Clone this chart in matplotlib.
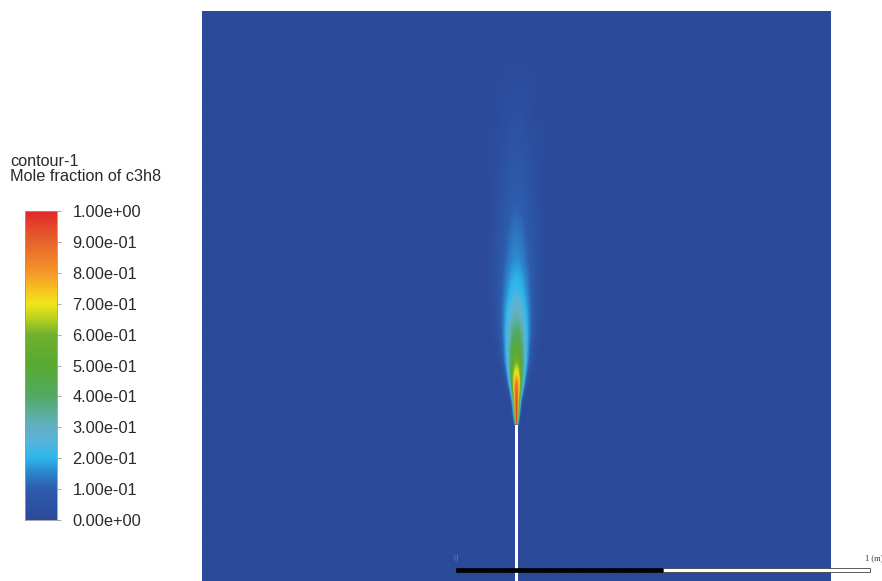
import numpy as np
import matplotlib
matplotlib.use("Agg")
import matplotlib.pyplot as plt
from matplotlib.colors import LinearSegmentedColormap
from matplotlib.patches import Rectangle

plt.rcParams['font.family'] = ['Liberation Sans', 'DejaVu Sans']

# ---- data ----
# plume centreline profile above the pipe tip (m)
heights = [0.0, 0.024, 0.06, 0.096, 0.125, 0.157, 0.198, 0.253, 0.318, 0.398, 0.542, 0.675, 0.795, 0.88]
centerline = [1.0, 0.98, 0.95, 0.88, 0.72, 0.58, 0.47, 0.34, 0.23, 0.16, 0.10, 0.06, 0.03, 0.008]
halfwidth = [0.0036, 0.006, 0.009, 0.0145, 0.019, 0.024, 0.028, 0.034, 0.040, 0.045, 0.047, 0.047, 0.046, 0.045]

cbar_ticks = [0.0, 0.1, 0.2, 0.3, 0.4, 0.5, 0.6, 0.7, 0.8, 0.9, 1.0]
cmap_pos = [0.0, 0.1, 0.15, 0.2, 0.25, 0.3, 0.35, 0.4, 0.5, 0.6, 0.65, 0.7, 0.75, 0.8, 0.9, 1.0]
cmap_cols = ['#2b4a9a', '#2e5cad', '#2d85cc', '#2cb7ea', '#55b5dc', '#62b0c6', '#5aae98',
             '#52aa64', '#58aa32', '#70b02e', '#b8d020', '#f0e61a', '#f8c020', '#f5982a',
             '#e8642a', '#e02a2a']

x_min, x_max = -0.758, 0.758
y_min, y_max = -0.376, 0.997
pipe_halfwidth = 0.0045
# --------------------------------------

cmap = LinearSegmentedColormap.from_list('fluent', list(zip(cmap_pos, cmap_cols)))

fig = plt.figure(figsize=(8.82, 5.81), dpi=100)
W, H = 882, 581

ax = fig.add_axes([202 / W, 0, 629 / W, 570 / H])
nx, ny = 1600, 1400
xs = np.linspace(x_min, x_max, nx)
ys = np.linspace(y_min, y_max, ny)
X, Y = np.meshgrid(xs, ys)
c = np.interp(Y, heights, centerline, left=0.0, right=0.0)
w = np.interp(Y, heights, halfwidth)
field = np.where(Y >= 0, c * np.exp(-(X / w) ** 2), 0.0)
ax.imshow(field, origin='lower', extent=[x_min, x_max, y_min, y_max],
          cmap=cmap, vmin=0, vmax=1, aspect='auto', interpolation='bilinear')
ax.add_patch(Rectangle((-pipe_halfwidth, y_min), 2 * pipe_halfwidth, -y_min,
                       facecolor='white', edgecolor='none', zorder=3))
ax.set_xlim(x_min, x_max)
ax.set_ylim(y_min, y_max)
ax.axis('off')

# scale bar (1 m) in data units
sb_x0 = -0.147
sb_y = -0.3495
ax.add_patch(Rectangle((sb_x0, sb_y - 0.006), 0.5, 0.012, facecolor='black',
                       edgecolor='black', lw=0.5, clip_on=False, zorder=5))
ax.add_patch(Rectangle((sb_x0 + 0.5, sb_y - 0.0045), 0.5, 0.009, facecolor='white',
                       edgecolor='#444444', lw=0.6, clip_on=False, zorder=5))
ax.text(sb_x0, sb_y + 0.018, '0', fontsize=6, family='Liberation Serif',
        color='#7080a8', ha='center', va='bottom', clip_on=False)
ax.text(sb_x0 + 1.0 - 0.014, sb_y + 0.018, '1 (m)', fontsize=6, family='Liberation Serif',
        color='#333333', ha='left', va='bottom', clip_on=False)

# colorbar
cax = fig.add_axes([25 / W, (H - 520) / H, 32 / W, 309 / H])
grad = np.linspace(0, 1, 512).reshape(-1, 1)
cax.imshow(grad, origin='lower', extent=[0, 1, 0, 1], cmap=cmap, aspect='auto')
cax.set_xlim(0, 1)
cax.set_ylim(0, 1)
cax.set_xticks([])
cax.yaxis.tick_right()
cax.set_yticks(cbar_ticks)
cax.set_yticklabels(['%.2e' % t for t in cbar_ticks])
cax.tick_params(axis='y', length=3, width=0.6, color='#999999', pad=8,
                labelsize=11.8, labelcolor='#2a2a2a')
for s in cax.spines.values():
    s.set_color('#9a9a9a')
    s.set_linewidth(0.6)

fig.text(10 / W, 1 - 162 / H, 'contour-1', fontsize=11.7, color='#2a2a2a', va='center', ha='left')
fig.text(10 / W, 1 - 176 / H, 'Mole fraction of c3h8', fontsize=11.7, color='#2a2a2a', va='center', ha='left')

fig.savefig('out.png', dpi=100)
